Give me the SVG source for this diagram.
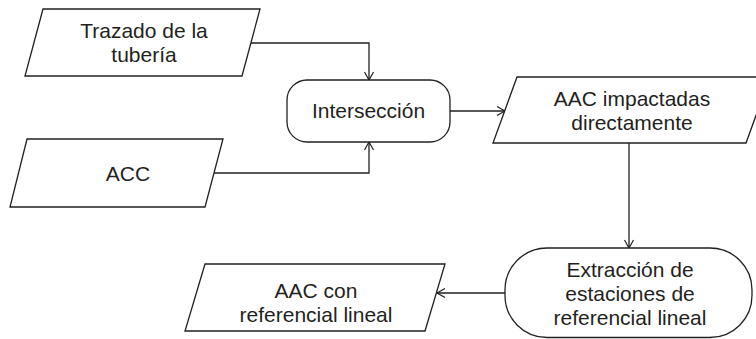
<svg xmlns="http://www.w3.org/2000/svg" width="756" height="339" viewBox="0 0 756 339">
<style>
.shape{fill:#fff;stroke:#231f20;stroke-width:1.3}
.conn{fill:none;stroke:#231f20;stroke-width:1.3}
text{font-family:"Liberation Sans",Arial,sans-serif;font-size:21px;fill:#231f20;text-anchor:middle}
</style>
<defs>
<marker id="arr" markerUnits="userSpaceOnUse" markerWidth="12" markerHeight="12" viewBox="-10 -6 12 12" refX="0" refY="0" orient="auto">
<path d="M-8,-4.5 L0,0 L-8,4.5" fill="none" stroke="#231f20" stroke-width="1.2"/>
</marker>
</defs>
<rect width="756" height="339" fill="#fff"/>
<g id="connectors">
<path class="conn" d="M251,43 H369 V80" marker-end="url(#arr)"/>
<path class="conn" d="M214,173 H369 V142" marker-end="url(#arr)"/>
<path class="conn" d="M450,111 H505" marker-end="url(#arr)"/>
<path class="conn" d="M629,143 V248" marker-end="url(#arr)"/>
<path class="conn" d="M505,293 H437" marker-end="url(#arr)"/>
</g>
<g id="trazado">
<polygon class="shape" points="43,9 260,9 242,76 25,76"/>
<text x="144" y="38">Trazado de la</text>
<text x="144" y="62">tubería</text>
</g>
<g id="acc">
<polygon class="shape" points="27,139 223,139 205,207 10,207"/>
<text x="128" y="181">ACC</text>
</g>
<g id="interseccion">
<rect class="shape" x="287" y="80" width="163" height="62" rx="20" ry="20"/>
<text x="368.5" y="118">Intersección</text>
</g>
<g id="aac-impactadas">
<polygon class="shape" points="517,77 770,77 746,143 493,143"/>
<text x="632" y="106">AAC impactadas</text>
<text x="632" y="130">directamente</text>
</g>
<g id="extraccion">
<rect class="shape" x="505" y="248" width="247" height="89.5" rx="42" ry="42"/>
<text x="630" y="277">Extracción de</text>
<text x="630" y="301">estaciones de</text>
<text x="630" y="325">referencial lineal</text>
</g>
<g id="aac-con">
<polygon class="shape" points="205,264 445,264 425,331 185,331"/>
<text x="316" y="298">AAC con</text>
<text x="316" y="322">referencial lineal</text>
</g>
</svg>
